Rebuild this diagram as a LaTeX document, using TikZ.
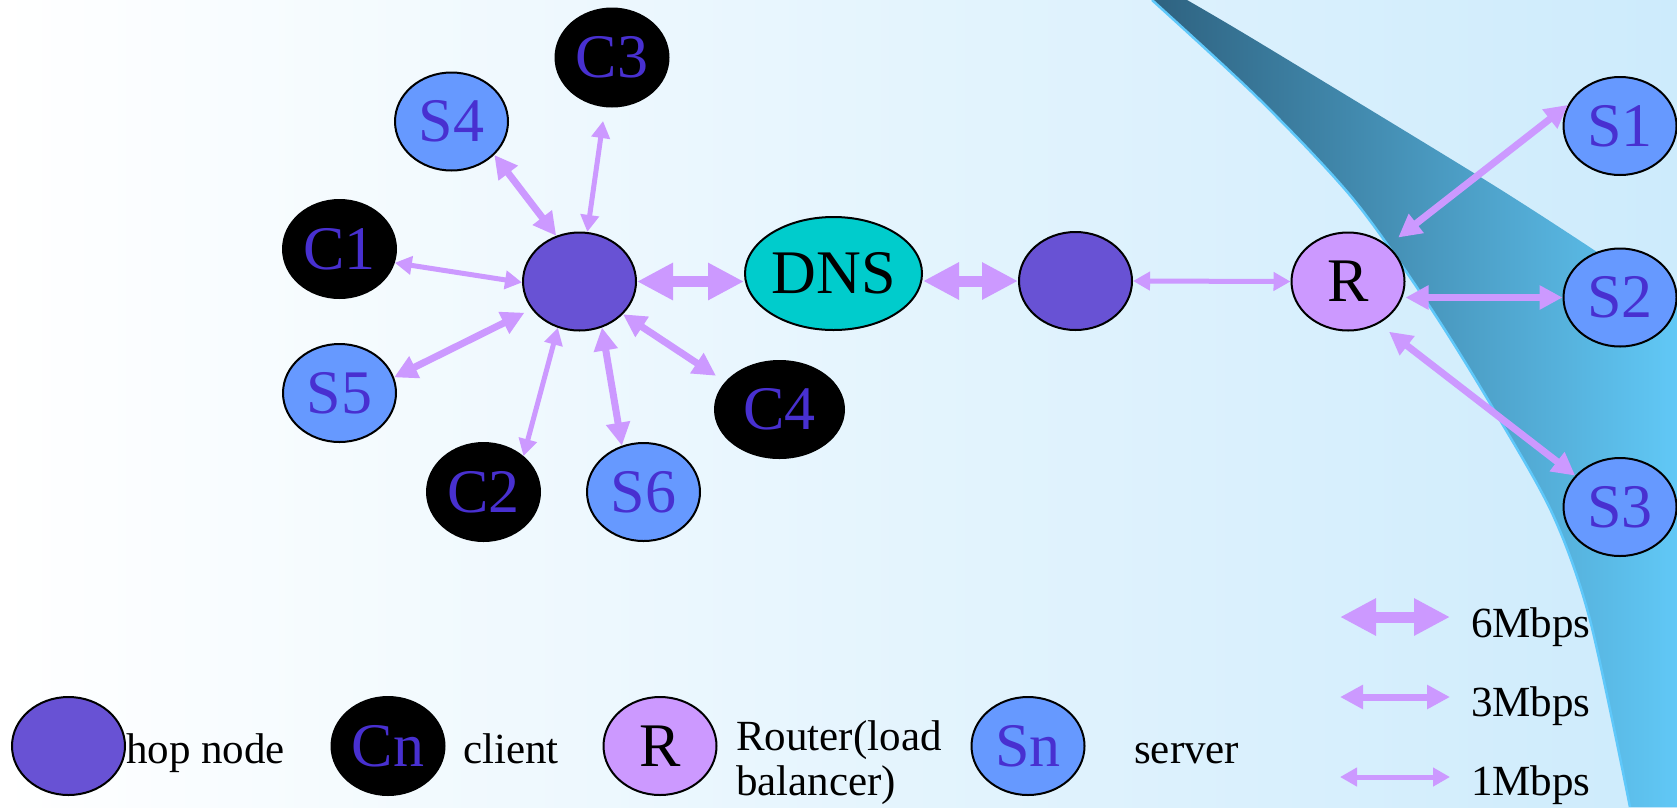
\documentclass[tikz,border=0pt]{standalone}
\usepackage{fontspec}
\setmainfont{Liberation Serif}
\usetikzlibrary{arrows.meta,shapes.geometric,calc}
\definecolor{hopc}{RGB}{104,82,212}
\definecolor{srvc}{RGB}{102,153,255}
\definecolor{rtc}{RGB}{204,153,255}
\definecolor{dnsc}{RGB}{0,204,204}
\definecolor{lblc}{RGB}{72,48,208}
\definecolor{arrc}{RGB}{204,153,255}
\definecolor{bgR}{RGB}{205,235,252}
\definecolor{bandL}{RGB}{46,98,128}
\definecolor{bandR}{RGB}{97,200,246}
\definecolor{edgec}{RGB}{95,200,250}
\begin{document}
\begin{tikzpicture}[x=1pt,y=-1pt,
 nd/.style={ellipse, draw=black, line width=2pt, inner sep=0pt, minimum width=113pt, minimum height=98pt, font=\fontsize{62}{70}\selectfont},
 hop/.style={nd, fill=hopc},
 cli/.style={nd, fill=black, text=lblc},
 srv/.style={nd, fill=srvc, text=lblc},
 rtr/.style={nd, fill=rtc, text=black},
 dnsn/.style={nd, fill=dnsc, text=black, minimum width=177pt, minimum height=113pt},
 lt/.style={font=\fontsize{43}{46}\selectfont, inner sep=0pt, anchor=base west},
 a6/.style={draw=arrc, line width=11pt, {Triangle[length=36pt,width=35pt]}-{Triangle[length=36pt,width=35pt]}},
 a3/.style={draw=arrc, line width=7pt, {Triangle[length=23pt,width=23pt]}-{Triangle[length=23pt,width=23pt]}},
 a1/.style={draw=arrc, line width=5pt, {Triangle[length=17pt,width=18pt]}-{Triangle[length=17pt,width=18pt]}}
]
\useasboundingbox (0,0) rectangle (1677,807);
% background
\shade[left color=white, right color=bgR] (0,0) rectangle (1677,807);
% swoosh band
\shade[left color=bandL, right color=bandR]
  plot[smooth] coordinates {(1152,0) (1260,100) (1354,200) (1432,310) (1497,415) (1553,515) (1590,620) (1630,807)}
  -- (1677,807) -- (1677,305)
  -- plot[smooth] coordinates {(1597,252) (1490,183) (1260,43) (1187,0)} -- cycle;
\draw[edgec, line width=2.5pt] plot[smooth] coordinates {(1152,0) (1260,100) (1354,200) (1432,310) (1497,415) (1553,515) (1590,620) (1630,807)};

% nodes
\node[hop] (hub1) at (579.5,281.5) {};
\node[cli] (C3) at (612,57.5) {C3};
\node[srv] (S4) at (451.5,121.5) {S4};
\node[cli] (C1) at (339.5,249) {C1};
\node[srv] (S5) at (339.5,393) {S5};
\node[cli] (C2) at (483.5,492) {C2};
\node[srv] (S6) at (643.5,492) {S6};
\node[cli, minimum width=129pt, minimum height=97pt] (C4) at (779.5,409.5) {C4};
\node[dnsn] (DNS) at (833.5,273.5) {DNS};
\node[hop] (hub2) at (1075.5,281) {};
\node[rtr] (R) at (1348,281.5) {R};
\node[srv] (S1) at (1620,126) {S1};
\node[srv] (S2) at (1620,297.5) {S2};
\node[srv] (S3) at (1620,507) {S3};

% connectors
\draw[a3] (hub1.117) -- (S4.-38);
\draw[a1, shorten >=14pt] (hub1.81) -- (C3.-98);
\draw[a1] (hub1.181) -- (C1.-14);
\draw[a3, shorten <=8pt] (hub1.-150) -- (S5.16);
\draw[a1] (hub1.-115) -- (C2.42);
\draw[a3] (hub1.-64) -- (S6.115);
\draw[a3, shorten >=11pt] (hub1.-37) -- (C4.153);
\draw[a6] (hub1.east) -- (hub1.east -| DNS.west);
\draw[a6] (hub2.west -| DNS.east) -- (hub2.west);
\draw[a1] (hub2.east) -- (R.west);
\draw[a3, shorten <=13pt] (R.42) -- (S1.158);
\draw[a3] (S2.west -| R.east) -- (S2.west);
\draw[a3, shorten <=13pt] (R.-54) -- (S3.145);

% legend
\node[hop] (lhop) at (68.5,746) {};
\node[lt] (thop) at (126,763) {hop node};
\node[cli] (lcli) at (388,746) {Cn};
\node[lt] (tcli) at (463,763) {client};
\node[rtr] (lrtr) at (660,746) {R};
\node[lt] (trtr1) at (736,750) {Router(load};
\node[lt] (trtr2) at (736,795) {balancer)};
\node[srv] (lsrv) at (1028,746) {Sn};
\node[lt] (tsrv) at (1134,763) {server};

\coordinate (g6a) at (1340,617);
\coordinate (g6b) at (1450,617);
\coordinate (g3a) at (1340,697);
\coordinate (g3b) at (1450,697);
\coordinate (g1a) at (1340,777);
\coordinate (g1b) at (1450,777);
\draw[a6] (g6a) -- (g6b);
\draw[a3] (g3a) -- (g3b);
\draw[a1] (g1a) -- (g1b);
\node[lt] (t6) at (1471,637) {6Mbps};
\node[lt] (t3) at (1471,716) {3Mbps};
\node[lt] (t1) at (1471,795) {1Mbps};
\end{tikzpicture}
\end{document}
